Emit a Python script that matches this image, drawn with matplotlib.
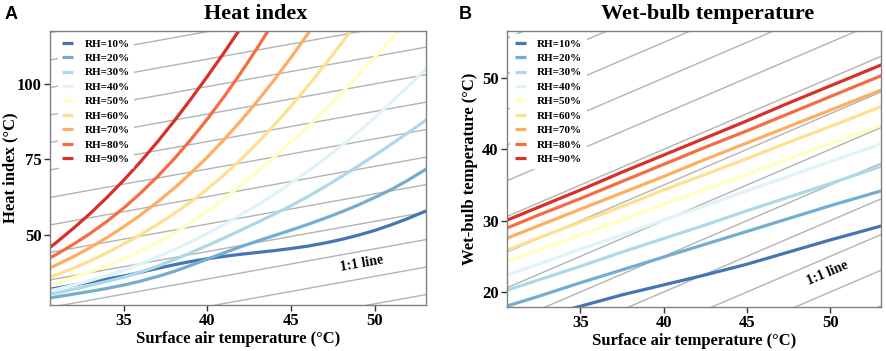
import matplotlib
matplotlib.use("Agg")
import matplotlib.pyplot as plt
import numpy as np

plt.rcParams['font.family'] = ['Liberation Serif', 'DejaVu Serif']
plt.rcParams['font.weight'] = 'bold'

rh_labels = ['RH=10%', 'RH=20%', 'RH=30%', 'RH=40%', 'RH=50%',
             'RH=60%', 'RH=70%', 'RH=80%', 'RH=90%']
colors = ['#4575b4', '#74add1', '#abd9e9', '#e0f3f8', '#ffffbf',
          '#fee090', '#fdae61', '#f46d43', '#d73027']

# heat index (deg C), surface air temperature 30..54 deg C
temp_hi = list(range(30, 55))
hi_10 = [31.4, 32.4, 33.4, 34.4, 35.4, 36.4, 37.6, 38.9, 40.1, 41.2, 42.1, 42.9, 43.6,
         44.2, 44.8, 45.5, 46.3, 47.3, 48.5, 49.9, 51.5, 53.4, 55.5, 57.8, 60.3]
hi_20 = [28.7, 29.5, 30.4, 31.3, 32.3, 33.4, 34.7, 36.2, 37.9, 39.9, 42.0, 44.1, 46.1,
         48.0, 49.8, 51.6, 53.5, 55.5, 57.6, 59.9, 62.4, 65.1, 68.2, 71.6, 75.2]
hi_30 = [29.8, 30.8, 32.0, 33.3, 34.6, 36.0, 37.7, 39.6, 41.8, 44.1, 46.5, 49.0, 51.6,
         54.2, 56.9, 59.7, 62.7, 65.9, 69.3, 72.8, 76.4, 80.1, 83.9, 87.8, 92.0]
hi_40 = [30.9, 32.0, 33.4, 34.9, 36.5, 38.3, 40.4, 42.7, 45.1, 47.7, 50.5, 53.5, 56.7,
         60.0, 63.5, 67.2, 71.1, 75.2, 79.5, 84.0, 88.9, 94.0, 99.3, 104.8, 110.5]
hi_50 = [32.5, 34.1, 35.9, 37.8, 39.9, 42.1, 44.6, 47.4, 50.5, 54.0, 57.8, 62.0, 66.4,
         71.0, 75.8, 80.8, 86.0, 91.4, 97.0, 102.8, 108.8, 115.0, 121.4, 128.0, 135.0]
hi_60 = [34.8, 36.8, 39.0, 41.4, 44.1, 47.0, 50.1, 53.4, 57.0, 60.9, 65.2, 69.9, 75.0,
         80.5, 86.4, 92.7, 99.3, 106.2, 113.4, 120.9, 128.7, 136.8, 145.0, 153.5, 162.0]
hi_70 = [37.6, 40.1, 42.8, 45.8, 49.1, 52.7, 56.6, 60.8, 65.4, 70.4, 75.8, 81.6, 87.8,
         94.4, 101.4, 108.8, 116.6, 124.8, 133.4, 142.4, 151.8, 161.6, 171.8, 182.4, 193.4]
hi_80 = [40.6, 43.6, 46.9, 50.5, 54.5, 58.9, 63.8, 69.2, 75.1, 81.5, 88.4, 95.8, 103.7,
         112.1, 120.9, 130.1, 139.7, 149.7, 160.1, 170.9, 182.1, 193.7, 205.7, 218.1, 230.9]
hi_90 = [43.3, 47.6, 52.2, 57.1, 62.4, 68.1, 74.2, 80.7, 87.6, 94.9, 102.5, 110.4, 118.6,
         127.1, 135.9, 145.0, 154.4, 164.1, 174.1, 184.4, 195.0, 205.9, 217.1, 228.6, 240.4]

# wet-bulb temperature (deg C)
temp_wb = [30, 32.5, 35, 37.5, 40, 42.5, 45, 47.5, 50, 52.5, 55]
wb_10 = [15.0, 16.5, 18.0, 19.6, 21.0, 22.4, 23.9, 25.6, 27.3, 28.9, 30.5]
wb_20 = [17.6, 19.4, 21.3, 23.1, 24.9, 26.7, 28.5, 30.3, 32.1, 33.8, 35.5]
wb_30 = [19.8, 21.7, 23.6, 25.6, 27.5, 29.4, 31.4, 33.3, 35.2, 37.2, 39.1]
wb_40 = [21.9, 23.9, 26.0, 28.0, 30.1, 32.1, 34.2, 36.2, 38.3, 40.3, 42.4]
wb_50 = [23.7, 25.9, 28.0, 30.1, 32.3, 34.4, 36.5, 38.7, 40.8, 42.9, 45.1]
wb_60 = [25.3, 27.6, 29.8, 32.0, 34.3, 36.5, 38.7, 41.0, 43.2, 45.5, 47.7]
wb_70 = [27.0, 29.3, 31.6, 33.9, 36.2, 38.6, 40.9, 43.2, 45.5, 47.8, 50.1]
wb_80 = [28.4, 30.8, 33.1, 35.5, 37.9, 40.3, 42.6, 45.0, 47.4, 49.8, 52.1]
wb_90 = [29.5, 31.9, 34.3, 36.8, 39.2, 41.6, 44.0, 46.5, 48.9, 51.3, 53.7]

# offsets of the grey 1:1 reference lines (y = x + c)
ref_hi = [-22.8, -13.7, -4.6, 4.5, 13.6, 22.7, 31.8, 40.9, 50.0, 59.1, 68.2, 77.3, 86.4]
ref_wb = [-35, -30, -25, -20, -15, -10, -5, 0, 5, 10, 15, 20, 25]

hi_series = [hi_10, hi_20, hi_30, hi_40, hi_50, hi_60, hi_70, hi_80, hi_90]
wb_series = [wb_10, wb_20, wb_30, wb_40, wb_50, wb_60, wb_70, wb_80, wb_90]

fig = plt.figure(figsize=(8.86, 3.51), dpi=100)
axA = fig.add_axes([50/886, 46/351, 376/886, 274/351])
axB = fig.add_axes([507/886, 44/351, 374/886, 276/351])

panels = [
    (axA, temp_hi, hi_series, ref_hi, (26.8, 117.5), [50, 75, 100], 'Heat index',
     'Heat index (\u00b0C)', (49.2, 40.6), 0.548, -0.106, 0.012),
    (axB, temp_wb, wb_series, ref_wb, (17.9, 56.6), [20, 30, 40, 50], 'Wet-bulb temperature',
     'Wet-bulb temperature (\u00b0C)', (49.85, 22.7), 0.537, -0.099, 0.0),
]

for ax, xs, series, refs, ylim, yticks, title, ylabel, lblpos, tx, ylx, legx in panels:
    xr = np.array([20.0, 60.0])
    for c in refs:
        ax.plot(xr, xr + c, color='#b3b3b3', lw=1.0, zorder=1)
    for vals, col, lab in zip(series, colors, rh_labels):
        ax.plot(xs, vals, color=col, lw=2.3, label=lab, zorder=2,
                solid_capstyle='butt')
    ax.set_xlim(30.6, 53.05)
    ax.set_ylim(*ylim)
    ax.set_xticks([35, 40, 45, 50])
    ax.set_yticks(yticks)
    ax.tick_params(axis='both', direction='out', length=4, width=1, color='#333333',
                   labelsize=12, pad=2)
    for lab in ax.get_xticklabels() + ax.get_yticklabels():
        lab.set_fontweight('bold')
    for sp in ax.spines.values():
        sp.set_color('#808080')
        sp.set_linewidth(1.0)
    ax.set_xlabel('Surface air temperature (\u00b0C)', fontsize=12, fontweight='bold', labelpad=1)
    ax.set_ylabel(ylabel, fontsize=12, fontweight='bold', va='center')
    ax.yaxis.set_label_coords(ylx, 0.5)
    ax.text(tx, 1.044, title, transform=ax.transAxes, ha='center', va='baseline',
            fontsize=16, fontweight='bold')
    ax.text(lblpos[0], lblpos[1], '1:1 line', fontsize=10, fontweight='bold',
            ha='center', va='center', rotation=45, transform_rotates_text=True,
            rotation_mode='anchor')
    leg = ax.legend(loc='upper left', bbox_to_anchor=(legx, 1.0), fontsize=8,
                    frameon=True, facecolor='white', edgecolor='none', framealpha=1,
                    handlelength=1.0, handletextpad=1.0, labelspacing=0.42,
                    borderaxespad=0.3, borderpad=0.4)
    leg.set_zorder(5)
    for t in leg.get_texts():
        t.set_fontweight('bold')

fig.text(5/886, 1 - 19/351, 'A', family='Liberation Sans', fontsize=13,
         fontweight='bold', ha='left', va='baseline')
fig.text(459/886, 1 - 19/351, 'B', family='Liberation Sans', fontsize=13,
         fontweight='bold', ha='left', va='baseline')

fig.savefig('out.png', dpi=100)
